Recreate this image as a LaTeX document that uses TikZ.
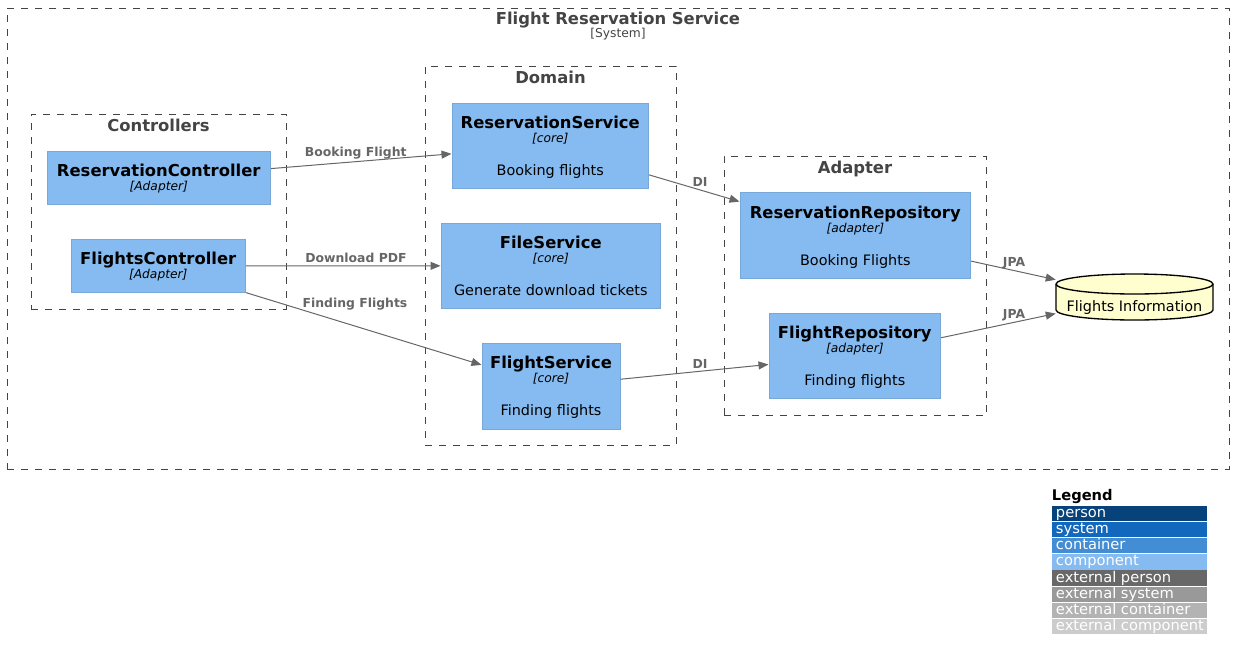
\documentclass[tikz,border=0pt]{standalone}
\usepackage{fontspec}
\setmainfont{DejaVu Sans}
\usetikzlibrary{arrows.meta,fit}

\definecolor{compfill}{HTML}{85BBF0}
\definecolor{compline}{HTML}{78A8D8}
\definecolor{boundline}{HTML}{444444}
\definecolor{relline}{HTML}{666666}
\definecolor{dbfill}{HTML}{FEFECE}
\definecolor{c4person}{HTML}{08427B}
\definecolor{c4system}{HTML}{1168BD}
\definecolor{c4container}{HTML}{438DD5}
\definecolor{c4component}{HTML}{85BBF0}
\definecolor{extperson}{HTML}{686868}
\definecolor{extsystem}{HTML}{999999}
\definecolor{extcontainer}{HTML}{B3B3B3}
\definecolor{extcomponent}{HTML}{CCCCCC}

\newcommand*{\dbrx}{58.875pt}
\newcommand*{\dbry}{7.5pt}

\begin{document}
\begin{tikzpicture}
[
	x=0.75pt, y=-0.75pt,
	boundary/.style={draw=boundline,line width=0.75pt,dash pattern=on 5.25pt off 5.25pt,inner sep=0pt},
	boundtitle/.style={anchor=base,inner sep=0pt,text=boundline,font=\fontsize{12.3}{14}\selectfont\bfseries},
	boundtype/.style={anchor=base,inner sep=0pt,text=boundline,font=\fontsize{9.2}{11}\selectfont},
	component/.style={draw=compline,fill=compfill,line width=0.75pt,inner sep=0pt},
	compname/.style={anchor=base,inner sep=0pt,font=\fontsize{12.3}{14}\selectfont\bfseries},
	comptype/.style={anchor=base,inner sep=0pt,font=\fontsize{9.2}{11}\selectfont\itshape},
	compdesc/.style={anchor=base,inner sep=0pt,font=\fontsize{10.8}{12}\selectfont},
	rel/.style={draw=relline,line width=0.75pt,-{Triangle[length=7.5pt,width=6pt]}},
	rellabel/.style={anchor=base,inner sep=0pt,text=relline,font=\fontsize{9.3}{11}\selectfont\bfseries},
	legendrow/.style={anchor=north west,inner sep=0pt,minimum width=116pt,minimum height=11.5pt},
	legendtext/.style={anchor=base west,inner sep=0pt,text=white,font=\fontsize{11}{12}\selectfont}
]

	\useasboundingbox (0,0) rectangle (1234,657);

	% boundaries
	\node[boundary,fit={(7,8) (1229,469)}] (system) {};
	\node[boundtitle] (system-title) at (618,24) {Flight Reservation Service};
	\node[boundtype] (system-type) at (618,37.7) {[System]};

	\node[boundary,fit={(31,114) (286,309)}] (controllers) {};
	\node[boundtitle] (controllers-title) at (158.5,131.5) {Controllers};

	\node[boundary,fit={(425,66) (676,445)}] (domain) {};
	\node[boundtitle] (domain-title) at (550.5,83.3) {Domain};

	\node[boundary,fit={(724,156) (986.5,415)}] (adapter) {};
	\node[boundtitle] (adapter-title) at (855,173.3) {Adapter};

	% controllers
	\node[component,fit={(47,151) (270.5,204.5)}] (rc) {};
	\node[compname] (rc-name) at (158.75,176) {ReservationController};
	\node[comptype] (rc-type) at (158.75,190) {[Adapter]};

	\node[component,fit={(71,239) (245.5,292.5)}] (fc) {};
	\node[compname] (fc-name) at (158.25,264.3) {FlightsController};
	\node[comptype] (fc-type) at (158.25,278.3) {[Adapter]};

	% domain
	\node[component,fit={(452,103) (648.5,188.5)}] (rs) {};
	\node[compname] (rs-name) at (550.25,128.3) {ReservationService};
	\node[comptype] (rs-type) at (550.25,142.7) {[core]};
	\node[compdesc] (rs-desc) at (550.25,175) {Booking flights};

	\node[component,fit={(441,223) (660.5,308.7)}] (file) {};
	\node[compname] (file-name) at (550.75,248.3) {FileService};
	\node[comptype] (file-type) at (550.75,262.5) {[core]};
	\node[compdesc] (file-desc) at (550.75,295) {Generate download tickets};

	\node[component,fit={(482,343.3) (620,429)}] (fs) {};
	\node[compname] (fs-name) at (551,368.3) {FlightService};
	\node[comptype] (fs-type) at (551,382.5) {[core]};
	\node[compdesc] (fs-desc) at (551,415) {Finding flights};

	% adapters
	\node[component,fit={(740,192.7) (970.7,278.7)}] (rr) {};
	\node[compname] (rr-name) at (855.3,218.3) {ReservationRepository};
	\node[comptype] (rr-type) at (855.3,232.7) {[adapter]};
	\node[compdesc] (rr-desc) at (855.3,265) {Booking Flights};

	\node[component,fit={(769,313) (940.7,398.7)}] (fr) {};
	\node[compname] (fr-name) at (854.8,338.3) {FlightRepository};
	\node[comptype] (fr-type) at (854.8,352.7) {[adapter]};
	\node[compdesc] (fr-desc) at (854.8,385) {Finding flights};

	% database
	\node[inner sep=0pt,fit={(1056,274) (1213,320)}] (db) {};
	\draw[line width=1pt,fill=dbfill] (1056,284) -- (1056,310)
		arc[start angle=180,end angle=360,x radius=\dbrx,y radius=\dbry] -- (1213,284)
		arc[start angle=0,end angle=180,x radius=\dbrx,y radius=\dbry] -- cycle;
	\draw[line width=1pt] (1056,284) arc[start angle=180,end angle=360,x radius=\dbrx,y radius=\dbry];
	\node[compdesc] (db-text) at (1134.5,311) {Flights Information};

	% relations
	\draw[rel] (rc) -- (rs);
	\node[rellabel] (rc-rs) at (355.7,156) {Booking Flight};
	\draw[rel] (fc) -- (file);
	\node[rellabel] (fc-file) at (356,262.7) {Download PDF};
	\draw[rel] (fc) -- (fs);
	\node[rellabel] (fc-fs) at (355,307.7) {Finding Flights};
	\draw[rel] (rs) -- (rr);
	\node[rellabel] (rs-rr) at (700,186) {DI};
	\draw[rel] (fs) -- (fr);
	\node[rellabel] (fs-fr) at (700,368.3) {DI};
	\draw[rel] (rr) -- (db);
	\node[rellabel] (rr-db) at (1014,266) {JPA};
	\draw[rel] (fr) -- (db);
	\node[rellabel] (fr-db) at (1014,318.5) {JPA};

	% legend
	\node[anchor=base west,inner sep=0pt,font=\fontsize{11}{12}\selectfont\bfseries] (legend) at (1051.7,500.7) {Legend};
	\foreach \name/\col [count=\i from 0] in {person/c4person,system/c4system,container/c4container,component/c4component,external person/extperson,external system/extsystem,external container/extcontainer,external component/extcomponent}
	{
		\node[legendrow,fill=\col] (leg-\i) at (1052,{505.5+16.15*\i}) {};
		\node[legendtext] (legtext-\i) at (1055.7,{517.5+16.15*\i}) {\name};
	}

\end{tikzpicture}
\end{document}
